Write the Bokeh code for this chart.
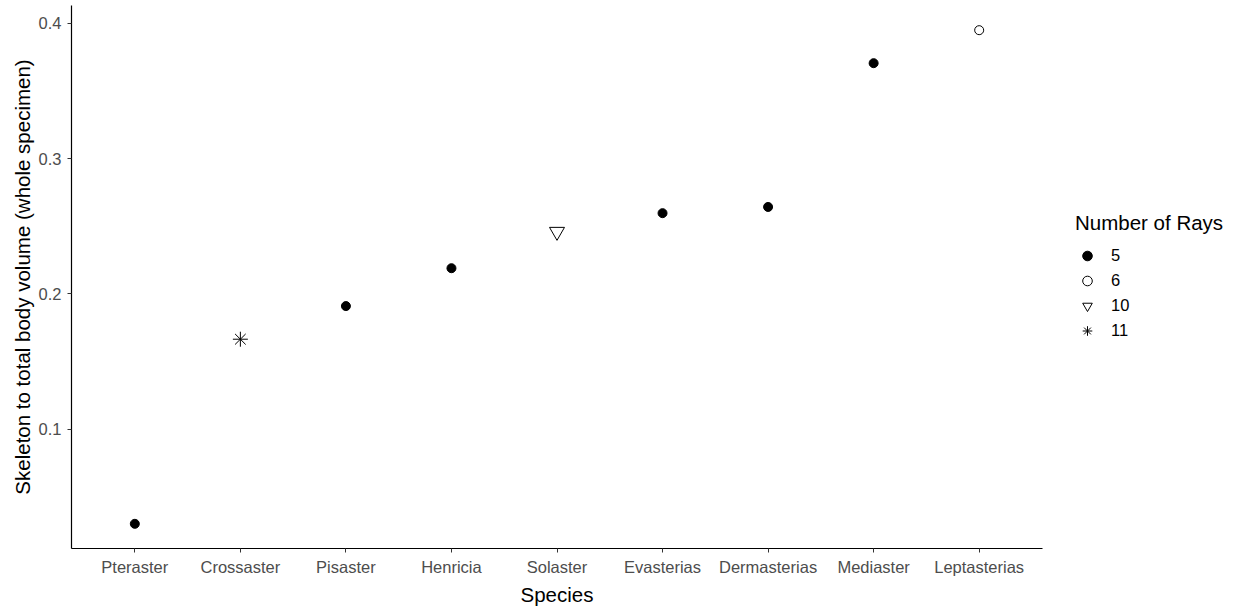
from bokeh.plotting import figure
from bokeh.models import FactorRange, Range1d, Legend, LegendItem
from bokeh.embed import file_html
from bokeh.resources import INLINE

# Skeleton-to-body-volume ratio per sea star genus, with number of rays
species = ["Pteraster", "Crossaster", "Pisaster", "Henricia", "Solaster",
           "Evasterias", "Dermasterias", "Mediaster", "Leptasterias"]
skeleton_ratio = [0.030, 0.1665, 0.191, 0.219, 0.246, 0.2597, 0.2643, 0.3706, 0.395]
rays = [5, 11, 5, 5, 10, 5, 5, 5, 6]

ray_groups = [5, 6, 10, 11]
ray_labels = ["5", "6", "10", "11"]

FONT = "Liberation Sans"
TICK_COLOR = "#4D4D4D"

lo, hi = min(skeleton_ratio), max(skeleton_ratio)
pad = (hi - lo) * 0.05

p = figure(
    x_range=FactorRange(factors=species, range_padding=0.2 / len(species)),
    y_range=Range1d(lo - pad, hi + pad),
    frame_width=971, frame_height=543,
    min_border_left=71, min_border_right=10,
    min_border_top=5, min_border_bottom=61,
    output_backend="svg", toolbar_location=None,
    background_fill_color="white", border_fill_color="white",
)
p.outline_line_color = None
p.xgrid.visible = False
p.ygrid.visible = False

styles = {
    5: dict(marker="circle", size=9, fill_color="black", line_color="black", line_width=1),
    6: dict(marker="circle", size=9, fill_color=None, line_color="black", line_width=1),
    10: dict(marker="inverted_triangle", size=15, fill_color=None, line_color="black", line_width=1),
    11: dict(marker="asterisk", size=15, line_color="black", line_width=1),
}

items = []
for g, lab in zip(ray_groups, ray_labels):
    xs = [s for s, r in zip(species, rays) if r == g]
    ys = [v for v, r in zip(skeleton_ratio, rays) if r == g]
    r = p.scatter(x=xs, y=ys, **styles[g])
    items.append(LegendItem(label=lab, renderers=[r]))

legend = Legend(
    items=items, title="Number of Rays", location="center_left",
    title_text_font=FONT, title_text_font_size="20.5px", title_text_color="black",
    title_text_font_style="normal", title_standoff=8,
    label_text_font=FONT, label_text_font_size="16.5px", label_text_color="black",
    glyph_width=24, glyph_height=25, label_height=25, label_standoff=12,
    spacing=0, padding=0, margin=33,
    border_line_color=None, background_fill_alpha=0,
)
p.add_layout(legend, "right")

for ax in (p.xaxis[0], p.yaxis[0]):
    ax.axis_line_color = "black"
    ax.axis_line_width = 1.2
    ax.major_tick_line_color = "#333333"
    ax.major_tick_in = 0
    ax.major_tick_out = 4
    ax.minor_tick_line_color = None
    ax.major_label_text_font = FONT
    ax.major_label_text_font_size = "16.5px"
    ax.major_label_text_color = TICK_COLOR
    ax.axis_label_text_font = FONT
    ax.axis_label_text_font_size = "20.5px"
    ax.axis_label_text_font_style = "normal"
    ax.axis_label_text_color = "black"

p.xaxis.axis_label = "Species"
p.yaxis.axis_label = "Skeleton to total body volume (whole specimen)"
p.yaxis.ticker = [0.1, 0.2, 0.3, 0.4]
p.yaxis.major_label_standoff = 6
p.yaxis.axis_label_standoff = 2
p.xaxis.major_label_standoff = 5
p.xaxis.axis_label_standoff = 4

open("out.html", "w").write(file_html(p, INLINE))
